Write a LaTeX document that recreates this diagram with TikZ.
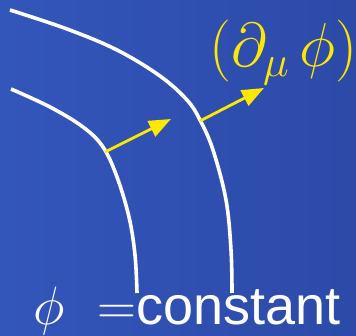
\RequirePackage{fix-cm}
\documentclass[tikz,border=0pt]{standalone}
\usepackage{fontspec}
\newfontfamily\labelsans{Liberation Sans}
\usetikzlibrary{arrows.meta}
\definecolor{bgleft}{RGB}{51,86,187}
\definecolor{bgright}{RGB}{44,74,168}
\definecolor{gradyellow}{RGB}{255,232,0}
\tikzset{
  level/.style={draw=white, line width=3.6pt, line cap=butt},
  grad/.style={draw=gradyellow, line width=2.8pt, -{Triangle[length=22pt,width=17pt]}},
}
\begin{document}
\begin{tikzpicture}[x=1pt,y=-1pt]
\shade[left color=bgleft, right color=bgright] (0,0) rectangle (356,336);
\useasboundingbox (0,0) rectangle (356,336);
\draw[level] plot[smooth, tension=0.6] coordinates {(10,10) (67,29) (117,50) (160,76) (187,100) (200,120) (213,150) (226,200) (231,250) (232,293)};
\draw[level] plot[smooth, tension=0.6] coordinates {(11,89) (50,107) (83,127) (103,147) (117,177) (129,217) (135,255) (137,293)};
\coordinate (p1) at (105,152);
\coordinate (q1) at (171,119);
\coordinate (p2) at (200,121);
\coordinate (q2) at (264,88);
\draw[grad] (p1) -- (q1);
\draw[grad] (p2) -- (q2);
\node[anchor=base west, inner sep=0pt, text=gradyellow, font=\fontsize{62}{70}\selectfont] (lbl) at (209,67) {$(\partial_\mu\mskip3mu\phi)$};
\node[anchor=base west, inner sep=0pt, text=white, font=\fontsize{54}{60}\selectfont] (eq) at (33,325) {$\phi\mskip6mu=$\labelsans constant};
\end{tikzpicture}
\end{document}
